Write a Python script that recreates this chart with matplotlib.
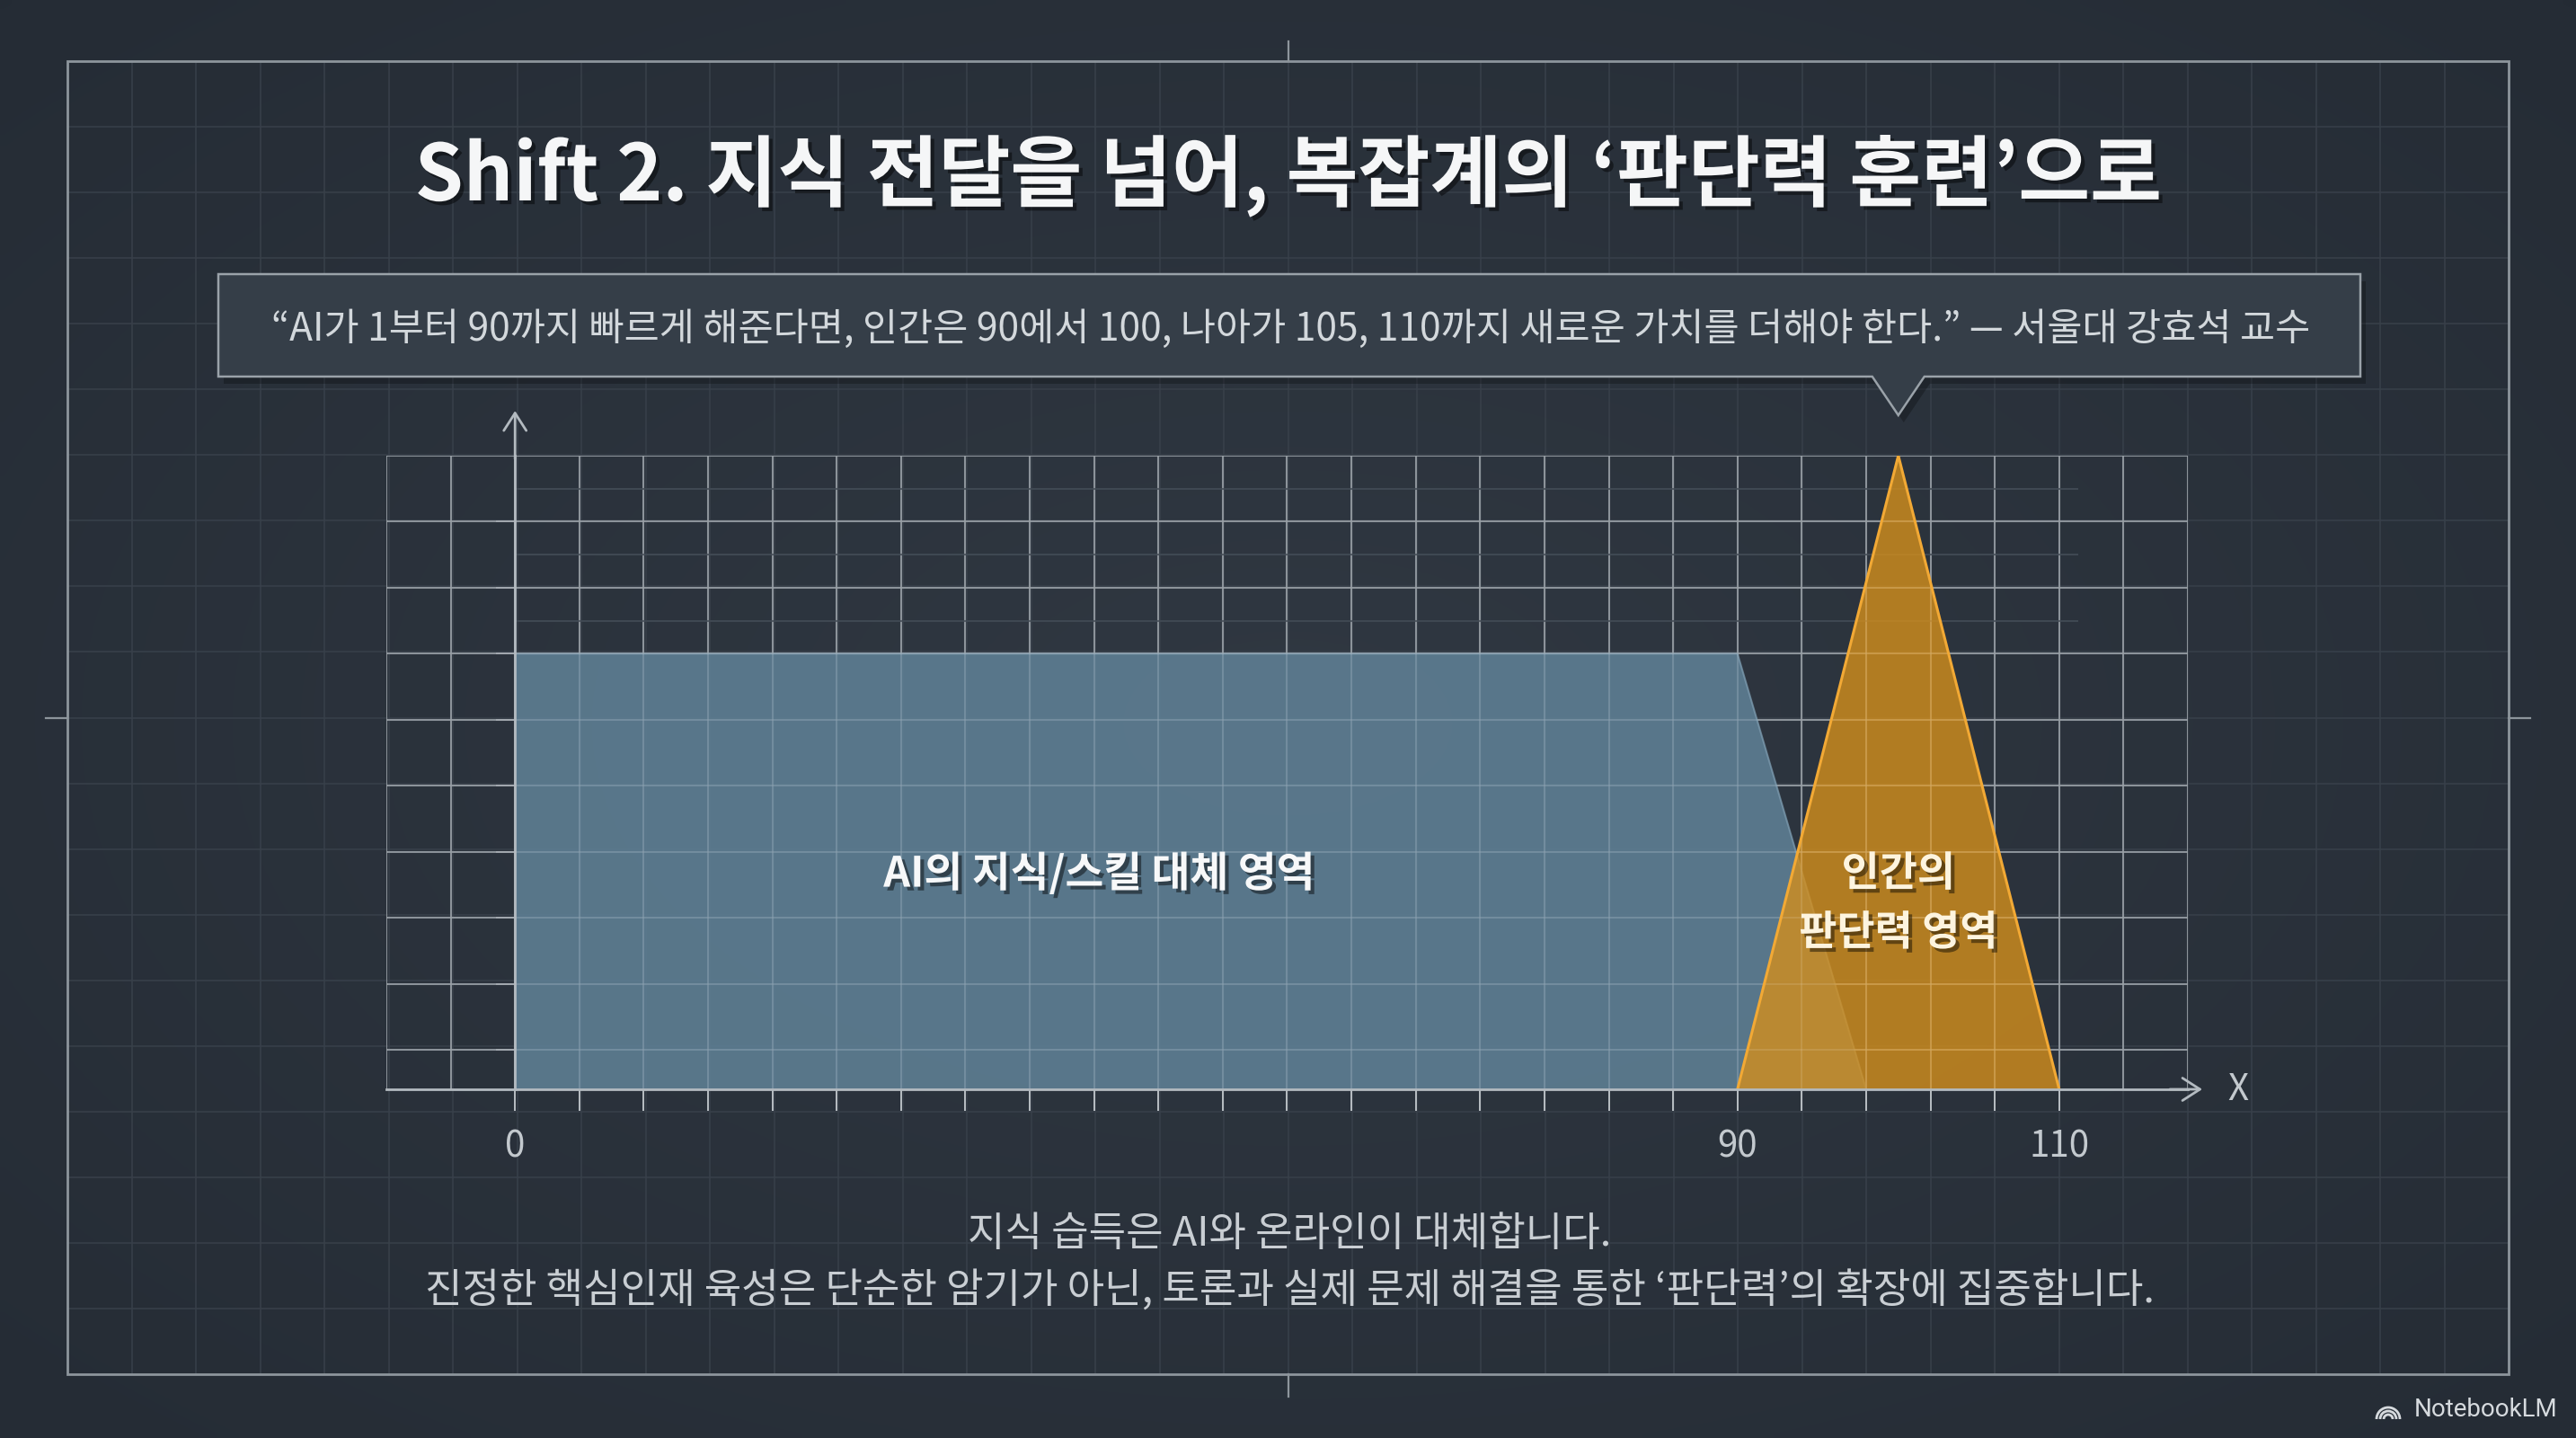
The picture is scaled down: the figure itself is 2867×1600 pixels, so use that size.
import numpy as np
import matplotlib
matplotlib.use("Agg")
import matplotlib.pyplot as plt
import matplotlib.patheffects as pe
from matplotlib.patches import Polygon, Rectangle, Arc

plt.rcParams['font.family'] = ['Noto Sans CJK KR', 'DejaVu Sans']

W, H = 2867, 1600

# ---- data ----
tick_values = [0, 90, 110]      # labelled x values
tick_cells = [0, 19, 24]        # grid column each label sits on (axis is schematic)
ai_x = [0, 90, 98]
ai_y = [6.6, 6.6, 0]
human_x = [90, 100, 110]
human_y = [0, 9.6, 0]

title = "Shift 2. 지식 전달을 넘어, 복잡계의 \u2018판단력 훈련\u2019으로"
quote = ("\u201cAI가 1부터 90까지 빠르게 해준다면, 인간은 90에서 100, 나아가 105, "
         "110까지 새로운 가치를 더해야 한다.\u201d \u2014 서울대 강효석 교수")
ai_label = "AI의 지식/스킬 대체 영역"
human_label = "인간의\n판단력 영역"
footer = ["지식 습득은 AI와 온라인이 대체합니다.",
          "진정한 핵심인재 육성은 단순한 암기가 아닌, 토론과 실제 문제 해결을 통한 \u2018판단력\u2019의 확장에 집중합니다."]

BG = '#2c343e'
GRID_PAGE = '#38404a'
GRID_CHART = '#7f878f'
AXIS_COL = '#b3bac0'
TEXT_LIGHT = '#d3d8dc'
BLUE = '#5f8095'
ORANGE = '#d48f1c'
ORANGE_EDGE = '#f2a935'

vals = np.array(tick_values, float)
cells = np.array(tick_cells, float)
slope_lo = (cells[1] - cells[0]) / (vals[1] - vals[0])
slope_hi = (cells[-1] - cells[-2]) / (vals[-1] - vals[-2])


def to_cell(v):
    v = np.asarray(v, float)
    out = np.interp(v, vals, cells)
    out = np.where(v < vals[0], cells[0] + (v - vals[0]) * slope_lo, out)
    out = np.where(v > vals[-1], cells[-1] + (v - vals[-1]) * slope_hi, out)
    return out


def from_cell(c):
    c = np.asarray(c, float)
    out = np.interp(c, cells, vals)
    out = np.where(c < cells[0], vals[0] + (c - cells[0]) / slope_lo, out)
    out = np.where(c > cells[-1], vals[-1] + (c - cells[-1]) / slope_hi, out)
    return out


fig = plt.figure(figsize=(W / 100, H / 100), dpi=100)
fig.patch.set_facecolor(BG)

# background layer in pixel coordinates
bg = fig.add_axes([0, 0, 1, 1], zorder=0)
bg.set_xlim(0, W)
bg.set_ylim(H, 0)
bg.axis('off')

# soft vignette
yy, xx = np.mgrid[0:160, 0:287]
r = np.sqrt(((xx - 143) / 143) ** 2 + ((yy - 80) / 80) ** 2) / 1.41
c_in = np.array([48, 56, 66]) / 255
c_out = np.array([37, 44, 53]) / 255
img = c_in[None, None, :] * (1 - r[..., None]) + c_out[None, None, :] * r[..., None]
bg.imshow(img, extent=(0, W, H, 0), aspect='auto', interpolation='bilinear', zorder=0)

# page grid + frame
fx0, fx1, fy0, fy1 = 75, 2792, 68, 1529
for k in range(1, 38):
    x = fx0 + k * (fx1 - fx0) / 38
    bg.plot([x, x], [fy0, fy1], color=GRID_PAGE, lw=1.1, zorder=1)
for k in range(1, 20):
    y = fy0 + k * (fy1 - fy0) / 20
    bg.plot([fx0, fx1], [y, y], color=GRID_PAGE, lw=1.1, zorder=1)
bg.add_patch(Rectangle((fx0, fy0), fx1 - fx0, fy1 - fy0, fill=False,
                       ec='#8d959c', lw=2.0, zorder=2))
cx, cy = (fx0 + fx1) / 2, 799
for seg in [([cx, cx], [46, fy0]), ([cx, cx], [fy1, 1554]),
            ([51, fx0], [cy, cy]), ([fx1, 2816], [cy, cy])]:
    bg.plot(*seg, color='#8d959c', lw=1.6, zorder=2)

shadow = [pe.withSimplePatchShadow(offset=(3, -3), shadow_rgbFace='black', alpha=0.45)]

bg.text(1434, 196, title, ha='center', va='center', fontsize=62.5, fontweight='bold',
        color='#f5f6f7', path_effects=shadow, zorder=5)

# ---- chart ----
ax = fig.add_axes([430 / W, 1 - 1212 / H, (2435 - 430) / W, (1212 - 507) / H], zorder=1)
ax.patch.set_alpha(0)
ax.set_xscale('function', functions=(to_cell, from_cell))
ytop = max(human_y)
ax.set_xlim(from_cell(-2), from_cell(26))
ax.set_ylim(0, ytop)

col_vals = from_cell(np.arange(-2, 27))
row_vals = ytop - np.arange(0, 10)
ax.vlines(col_vals, 0, ytop, color=GRID_CHART, lw=1.5, zorder=1)
ax.hlines(row_vals, col_vals[0], col_vals[-1], color=GRID_CHART, lw=1.5, zorder=1)
# faint half-step lines above the AI plateau
half_rows = ytop - 0.5 - np.arange(0, 3)
ax.hlines(half_rows, 0, from_cell(24.3), color='#3f4852', lw=1.5, zorder=1)

ax.fill_between(ai_x, ai_y, 0, color=BLUE, alpha=0.88, lw=0, zorder=2)
ax.plot(ai_x, ai_y, color='#7e9cb0', lw=1.5, alpha=0.7, zorder=2)
ax.fill_between(human_x, human_y, 0, color=ORANGE, alpha=0.8, lw=0, zorder=3)
ax.plot(human_x, human_y, color=ORANGE_EDGE, lw=2.2, zorder=4)
ax.vlines(col_vals, 0, ytop, color='white', alpha=0.1, lw=1.5, zorder=3.5)
ax.hlines(row_vals, col_vals[0], col_vals[-1], color='white', alpha=0.1, lw=1.5, zorder=3.5)

for s in ['top', 'right']:
    ax.spines[s].set_visible(False)
ax.spines['left'].set_position(('data', 0))
ax.spines['left'].set_bounds(0, ytop)
for s in ['left', 'bottom']:
    ax.spines[s].set_color(AXIS_COL)
    ax.spines[s].set_linewidth(2.0)
    ax.spines[s].set_zorder(5)

ax.set_xticks(tick_values)
ax.set_xticklabels([str(v) for v in tick_values], fontsize=29, color='#c3c9ce',
                   fontweight='light')
minor = [v for v in from_cell(np.arange(0, 25)) if not np.any(np.isclose(v, vals))]
ax.set_xticks(minor, minor=True)
ax.tick_params(axis='x', which='both', direction='out', length=17, width=1.3,
               color='#c3c9ce', pad=14)
ax.set_yticks(ytop - np.arange(1, 10))
ax.tick_params(axis='y', direction='out', length=15, width=1.3, color='#9aa1a8',
               labelleft=False)

arrow = dict(arrowstyle='->,head_length=0.7,head_width=0.45', color=AXIS_COL, lw=2.0,
             mutation_scale=20, shrinkA=0, shrinkB=0)
ax.annotate('', xy=(0, ytop + 0.68), xytext=(0, ytop - 0.05), xycoords='data',
            arrowprops=arrow, annotation_clip=False, zorder=6)
ax.annotate('', xy=(1.008, 0), xytext=(0.99, 0), xycoords='axes fraction',
            arrowprops=arrow, annotation_clip=False, zorder=6)
ax.text(1.022, 0, 'X', transform=ax.transAxes, ha='left', va='center', fontsize=29,
        color='#c3c9ce', fontweight='light')

ax.text(43, 3.26, ai_label, ha='center', va='center', fontsize=33.5, fontweight='bold',
        color='#f7f8f9', path_effects=shadow, zorder=7)
ax.text(human_x[1], 2.81, human_label, ha='center', va='center', fontsize=33,
        fontweight='bold', color='#fdf4df', linespacing=1.55, path_effects=shadow, zorder=7)

# ---- quote callout, pointer aimed at the human peak ----
tip_x = ax.transData.transform((human_x[1], ytop))[0]
bx0, bx1, by0, by1 = 243, 2627, 305, 419
notch = 29
box = [(bx0, by0), (bx1, by0), (bx1, by1), (tip_x + notch, by1), (tip_x, 462),
       (tip_x - notch, by1), (bx0, by1)]
bg.add_patch(Polygon([(x + 6, y + 8) for x, y in box], closed=True, fc='black',
                     alpha=0.25, lw=0, zorder=3))
bg.add_patch(Polygon(box, closed=True, fc='#353e48', ec='#9aa2a9', lw=1.8, zorder=4))
bg.text((bx0 + bx1) / 2 + 2, 367, quote, ha='center', va='center', fontsize=30.6,
        fontweight='light', color=TEXT_LIGHT, zorder=5)

# ---- footer ----
bg.text(1435, 1373, footer[0], ha='center', va='center', fontsize=32.5,
        fontweight='light', color='#c9ced3', zorder=5)
bg.text(1435, 1437, footer[1], ha='center', va='center', fontsize=32.5,
        fontweight='light', color='#c9ced3', zorder=5)

# watermark
bg.text(2846, 1569, 'NotebookLM', ha='right', va='center', fontsize=20,
        color='#d6dade', family=['Roboto', 'DejaVu Sans'], zorder=5)
for rad in (5, 9, 13):
    bg.add_patch(Arc((2658, 1579), 2 * rad, 2 * rad, theta1=180, theta2=360,
                     color='#d6dade', lw=2.0, zorder=5))

fig.savefig('out.png', dpi=100, facecolor=BG)
